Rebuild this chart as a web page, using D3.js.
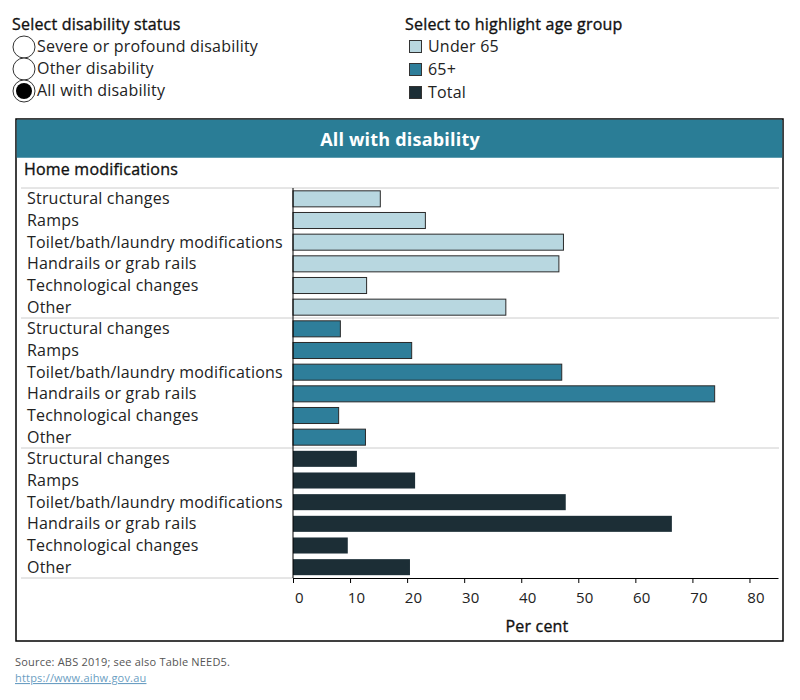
<!DOCTYPE html>
<html>
<head>
<meta charset="utf-8">
<script src="https://cdn.jsdelivr.net/npm/d3@7"></script>
<style>
  body { margin: 0; background: #fff; }
  svg { font-family: "Open Sans", sans-serif; letter-spacing: 0.2px; }
  .medium { stroke: #111; stroke-width: 0.35px; }
</style>
</head>
<body>
<svg id="chart" width="800" height="700"></svg>
<script>
// home modifications by age group, all with disability
const categories = [
  "Structural changes", "Ramps", "Toilet/bath/laundry modifications",
  "Handrails or grab rails", "Technological changes", "Other"
];
const groups = ["Under 65", "65+", "Total"];
const under65 = [15.3, 23.2, 47.4, 46.6, 12.9, 37.3];
const over65 = [8.3, 20.8, 47.1, 73.9, 8.0, 12.7];
const total = [11.2, 21.4, 47.8, 66.4, 9.6, 20.5];
const xTicks = [0, 10, 20, 30, 40, 50, 60, 70, 80];
const statusOptions = ["Severe or profound disability", "Other disability", "All with disability"];

const colors = { "Under 65": "#b8d7e0", "65+": "#2e7e9a", "Total": "#1c2e36" };
const seriesValues = { "Under 65": under65, "65+": over65, "Total": total };

const svg = d3.select("#chart");
const textColor = "#222";
const fs = 16;

// --- top controls ---
svg.append("text").attr("class", "medium").attr("x", 12).attr("y", 30)
  .attr("font-size", fs).attr("fill", "#111")
  .text("Select disability status");

statusOptions.forEach((s, i) => {
  const cy = 47 + i * 22;
  svg.append("circle").attr("cx", 24).attr("cy", cy).attr("r", 11)
    .attr("fill", "#fff").attr("stroke", "#333").attr("stroke-width", 1);
  if (s === "All with disability") {
    svg.append("circle").attr("cx", 24).attr("cy", cy).attr("r", 8).attr("fill", "#000");
  }
  svg.append("text").attr("x", 37).attr("y", cy + 5)
    .attr("font-size", fs).attr("fill", textColor).text(s);
});

svg.append("text").attr("class", "medium").attr("x", 405).attr("y", 30)
  .attr("font-size", fs).attr("fill", "#111")
  .text("Select to highlight age group");

groups.forEach((g, i) => {
  const cy = 47 + i * 23;
  svg.append("rect").attr("x", 409.5).attr("y", cy - 6.5).attr("width", 12).attr("height", 12)
    .attr("fill", colors[g]).attr("stroke", "#333").attr("stroke-width", 1);
  svg.append("text").attr("x", 428).attr("y", cy + 5)
    .attr("font-size", fs).attr("fill", textColor).text(g);
});

// --- panel ---
svg.append("rect").attr("x", 16).attr("y", 119).attr("width", 767).attr("height", 522)
  .attr("fill", "#fff").attr("stroke", "#000").attr("stroke-width", 1.5);
svg.append("rect").attr("x", 16.75).attr("y", 119.75).attr("width", 765.5).attr("height", 38)
  .attr("fill", "#2a7d96");
svg.append("text").attr("x", 400).attr("y", 146).attr("text-anchor", "middle")
  .attr("font-size", 18).attr("font-weight", 700).attr("fill", "#fff")
  .text("All with disability");
svg.append("text").attr("class", "medium").attr("x", 24).attr("y", 175)
  .attr("font-size", fs).attr("fill", "#111")
  .text("Home modifications");

// rows
const rows = [];
groups.forEach(g => categories.forEach((c, j) => {
  rows.push({ key: g + "|" + c, group: g, category: c, value: seriesValues[g][j] });
}));

const x = d3.scaleLinear().domain([0, 85]).range([293, 778]);
const y = d3.scaleBand().domain(rows.map(d => d.key)).range([188, 578])
  .paddingInner(0.26).paddingOuter(0.13);

// section separators
const sectionTop = groups.map(g => y(g + "|" + categories[0]) - y.step() * y.paddingOuter());
[...sectionTop, 578].forEach(yy => {
  svg.append("line").attr("x1", 21).attr("x2", yy === 578 ? 293 : 779)
    .attr("y1", yy).attr("y2", yy).attr("stroke", "#ccc").attr("stroke-width", 1);
});

// labels
svg.append("g").selectAll("text").data(rows).join("text")
  .attr("x", 27).attr("y", d => y(d.key) + y.bandwidth() / 2 + 5.5)
  .attr("font-size", fs).attr("fill", textColor)
  .text(d => d.category);

// bars
svg.append("g").selectAll("rect").data(rows).join("rect")
  .attr("x", x(0)).attr("y", d => y(d.key))
  .attr("width", d => x(d.value) - x(0)).attr("height", y.bandwidth())
  .attr("fill", d => colors[d.group])
  .attr("stroke", d => d.group === "Total" ? "none" : "#2a2a2a")
  .attr("stroke-width", 1);

// axes
svg.append("line").attr("x1", x(0)).attr("x2", x(0)).attr("y1", 188).attr("y2", 578)
  .attr("stroke", "#000").attr("stroke-width", 1);

const xAxis = svg.append("g").attr("transform", "translate(0,578)")
  .call(d3.axisBottom(x).tickValues(xTicks).tickSize(5).tickSizeOuter(0));
xAxis.select(".domain").attr("stroke", "#000");
xAxis.selectAll(".tick line").attr("stroke", "#000");
xAxis.selectAll(".tick text")
  .attr("dx", 6).attr("dy", "1.15em")
  .attr("font-family", "Open Sans, sans-serif").attr("font-size", 15).attr("fill", textColor);

svg.append("text").attr("class", "medium").attr("x", 537).attr("y", 632).attr("text-anchor", "middle")
  .attr("font-size", fs).attr("fill", "#111")
  .text("Per cent");

// footer
svg.append("text").attr("x", 15).attr("y", 666).attr("font-size", 11).attr("fill", "#555")
  .text("Source: ABS 2019; see also Table NEED5.");
svg.append("text").attr("x", 15).attr("y", 682).attr("font-size", 11).attr("fill", "#6b9ec2")
  .attr("text-decoration", "underline").text("https://www.aihw.gov.au");
</script>
</body>
</html>
